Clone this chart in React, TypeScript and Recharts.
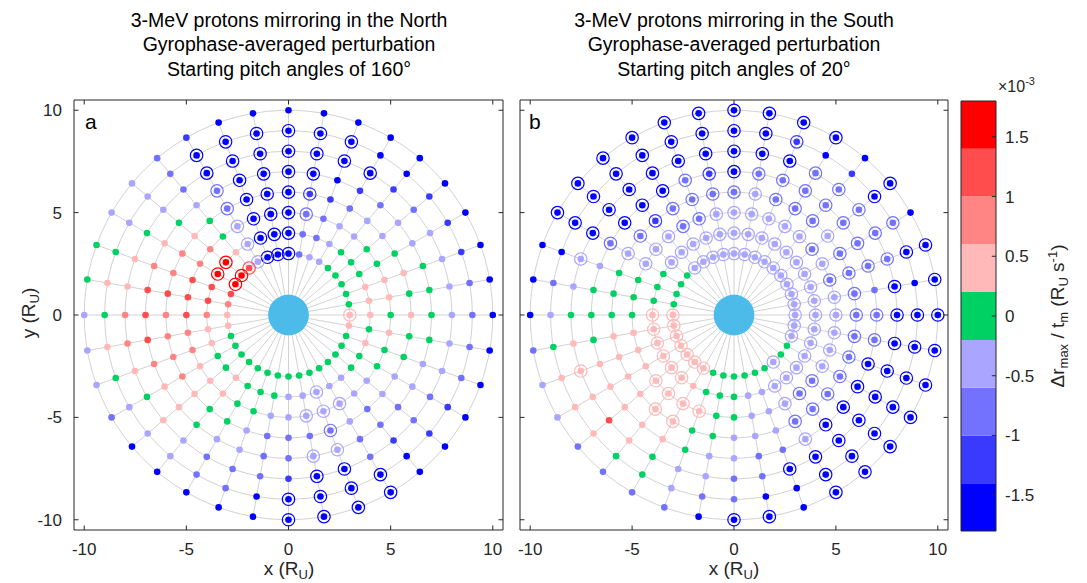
import { ReferenceArea, ReferenceLine, Scatter, ScatterChart, XAxis, YAxis } from 'recharts'

// grid: rings of starting radius (R_U) and azimuth of starting point (deg, counter-clockwise from +x)
const radii = [3, 4, 5, 6, 7, 8, 9, 10]
const angles = [
  0, 10, 20, 30, 40, 50, 60, 70, 80, 90, 100, 110, 120, 130, 140, 150, 160, 170,
  180, 190, 200, 210, 220, 230, 240, 250, 260, 270, 280, 290, 300, 310, 320, 330, 340, 350,
]

// colour class of each point, one row per radius (3 .. 10), one digit per angle
// 0 = deepest blue ... 4 = green (about zero) ... 8 = red
const northLevels = [
  '544444 332000 378876 554444 444444 444445',
  '555444 322000 358877 655445 444333 334454',
  '455443 322000 346677 766555 443333 333445',
  '545433 211000 245667 666654 432222 323344',
  '444332 100000 234567 776554 332233 222334',
  '333321 000000 023455 665453 222100 212233',
  '221110 000000 023345 454333 220000 001122',
  '000000 000000 123344 333200 000000 000000',
]
// 'o' = point drawn with an extra circle around it
const northRings = [
  'o..... ...ooo oooo.. ...... ...... ......',
  '...... ...ooo o.oo.. ...... .....o ......',
  '...... ..oooo o..... ...... ....oo o.....',
  '...... ..oooo o..... ...... .....o ......',
  '...... ..oooo o..... ...... ....oo ......',
  '...... oooooo o..... ...... ....oo ......',
  '...... .ooooo o..... ...... ...ooo o.....',
  '...... ...... ...... ...... ...ooo o.....',
]

const southLevels = [
  '333333 333333 334444 555555 544444 434433',
  '333333 333333 333444 555555 544433 333333',
  '332323 333332 233344 455555 554433 322333',
  '222232 223222 212344 455555 544333 222222',
  '222222 222012 000234 445555 543322 300002',
  '002222 200000 000033 455575 433220 000000',
  '000201 010000 000002 345554 432200 000000',
  '000000 000000 000000 023322 220000 000000',
]
const southRings = [
  'oooooo oooooo oo.... oooooo o..... .o..oo',
  'oooooo oooooo ooo... oooooo ...... oooooo',
  'oooooo oooooo oooo.. ....oo oo.... oooooo',
  'oooooo oooooo oooo.. .....o o..... oooooo',
  'o.oooo oooooo oooo.. ...... ...... oooooo',
  'oooooo oooooo ooooo. ..o... .....o oooooo',
  'o.ooo. .ooooo oooo.. ...... ...... oooooo',
  'ooo.o. oooooo oooo.. ...... ...oo. oooooo',
]

// colour bar (x 1e-3 R_U/s)
const bandEdges = [-1.8, -1.4, -1.0, -0.6, -0.2, 0.2, 0.6, 1.0, 1.4, 1.8]
const bandColors = ['#0000ff', '#3a3aff', '#7272ff', '#aaa6ff', '#00d163', '#ffb9b9', '#ff8585', '#ff4c4c', '#ff0000']
const colorTicks = [-1.5, -1, -0.5, 0, 0.5, 1, 1.5]

const axisTicks = [-10, -5, 0, 5, 10]
const LIM = 10.5
const planetRadius = 1
const innerSpoke = 1

const FONT = '"Liberation Sans", Arial, Helvetica, sans-serif'
const TEXT = '#262626'
const GRID = '#d2d2d2'
const H = 583
const MARGIN = { top: 100, right: 12, bottom: 23 }
const Y_AXIS_W = 34
const X_AXIS_H = 30
const TICK_LEN = 0.22

type Pt = { x: number; y: number; level: number; ring: boolean }

const rad = (deg: number) => (deg * Math.PI) / 180

const buildPoints = (levels: string[], rings: string[]): Pt[] =>
  radii.flatMap((r, ri) => {
    const lv = levels[ri].replace(/\s/g, '')
    const rg = rings[ri].replace(/\s/g, '')
    return angles.map((a, ai) => ({
      x: r * Math.cos(rad(a)),
      y: r * Math.sin(rad(a)),
      level: Number(lv[ai]),
      ring: rg[ai] === 'o',
    }))
  })

const northPoints = buildPoints(northLevels, northRings)
const southPoints = buildPoints(southLevels, southRings)

// grey polar grid
const circleSteps = Array.from({ length: 91 }, (_, i) => i * 4)
const gridCircles = radii.map((r) => circleSteps.map((a) => ({ x: r * Math.cos(rad(a)), y: r * Math.sin(rad(a)) })))
const gridSpokes = angles.map((a) => [
  { x: innerSpoke * Math.cos(rad(a)), y: innerSpoke * Math.sin(rad(a)) },
  { x: radii[radii.length - 1] * Math.cos(rad(a)), y: radii[radii.length - 1] * Math.sin(rad(a)) },
])

// one invisible anchor per colour band so the bar chart has data
const bandAnchors = bandColors.map((_, i) => ({ x: 0.5, y: (bandEdges[i] + bandEdges[i + 1]) / 2 }))

const NoMark = () => <g />

const PointMark = (props: any) => {
  const { cx, cy, payload } = props
  const c = bandColors[payload.level]
  return (
    <g>
      {payload.ring && <circle cx={cx} cy={cy} r={6.2} fill="none" stroke={c} strokeWidth={1.2} />}
      <circle cx={cx} cy={cy} r={3.3} fill={c} />
    </g>
  )
}

type PanelProps = { left: number; width: number; marginLeft: number; showY: boolean; points: Pt[] }

const Panel = ({ left, width, marginLeft, showY, points }: PanelProps) => {
  const plotW = width - marginLeft - (showY ? Y_AXIS_W : 0) - MARGIN.right
  const pxPerUnit = plotW / (2 * LIM)
  const PlanetMark = (p: any) => <circle cx={p.cx} cy={p.cy} r={planetRadius * pxPerUnit} fill="#4dbbea" />
  const tickSegs = axisTicks.flatMap((t) => [
    [{ x: t, y: -LIM }, { x: t, y: -LIM + TICK_LEN }],
    [{ x: t, y: LIM }, { x: t, y: LIM - TICK_LEN }],
    [{ x: -LIM, y: t }, { x: -LIM + TICK_LEN, y: t }],
    [{ x: LIM, y: t }, { x: LIM - TICK_LEN, y: t }],
  ])
  return (
    <div style={{ position: 'absolute', left, top: 0 }}>
      <ScatterChart width={width} height={H} margin={{ ...MARGIN, left: marginLeft }}>
        <XAxis
          type="number"
          dataKey="x"
          domain={[-LIM, LIM]}
          ticks={axisTicks}
          interval={0}
          allowDataOverflow
          height={X_AXIS_H}
          tickLine={false}
          axisLine={false}
          tickSize={0}
          tickMargin={13}
          tick={{ fontSize: 17, fill: TEXT, fontFamily: FONT }}
        />
        <YAxis
          type="number"
          dataKey="y"
          domain={[-LIM, LIM]}
          ticks={axisTicks}
          interval={0}
          allowDataOverflow
          hide={!showY}
          width={Y_AXIS_W}
          tickLine={false}
          axisLine={false}
          tickSize={0}
          tickMargin={12}
          tick={{ fontSize: 17, fill: TEXT, fontFamily: FONT }}
        />
        {gridCircles.map((c, i) => (
          <Scatter key={`c${i}`} data={c} line={{ stroke: GRID, strokeWidth: 1 }} shape={NoMark} isAnimationActive={false} />
        ))}
        {gridSpokes.map((s, i) => (
          <Scatter key={`s${i}`} data={s} line={{ stroke: GRID, strokeWidth: 1 }} shape={NoMark} isAnimationActive={false} />
        ))}
        <Scatter data={[{ x: 0, y: 0 }]} shape={PlanetMark} isAnimationActive={false} />
        <Scatter data={points} shape={PointMark} isAnimationActive={false} />
        <ReferenceLine x={-LIM} stroke={TEXT} strokeWidth={1} />
        <ReferenceLine x={LIM} stroke={TEXT} strokeWidth={1} />
        <ReferenceLine y={-LIM} stroke={TEXT} strokeWidth={1} />
        <ReferenceLine y={LIM} stroke={TEXT} strokeWidth={1} />
        {tickSegs.map((seg, i) => (
          <ReferenceLine key={`t${i}`} segment={seg} stroke={TEXT} strokeWidth={1} />
        ))}
      </ScatterChart>
    </div>
  )
}

const ColorBar = () => (
  <div style={{ position: 'absolute', left: 950, top: 0 }}>
    <ScatterChart width={137} height={H} margin={{ top: 101, right: 31, bottom: 52, left: 11 }}>
      <XAxis type="number" dataKey="x" domain={[0, 1]} allowDataOverflow hide />
      <YAxis
        type="number"
        dataKey="y"
        orientation="right"
        domain={[bandEdges[0], bandEdges[bandEdges.length - 1]]}
        ticks={colorTicks}
        interval={0}
        allowDataOverflow
        width={60}
        tickLine={false}
        axisLine={false}
        tickSize={0}
        tickMargin={9}
        tick={{ fontSize: 17, fill: TEXT, fontFamily: FONT }}
      />
      <Scatter data={bandAnchors} shape={NoMark} isAnimationActive={false} />
      {bandColors.map((c, i) => (
        <ReferenceArea
          key={c}
          x1={0}
          x2={1}
          y1={bandEdges[i]}
          y2={bandEdges[i + 1]}
          fill={c}
          fillOpacity={1}
          stroke="none"
          ifOverflow="visible"
        />
      ))}
      <ReferenceArea
        x1={0}
        x2={1}
        y1={bandEdges[0]}
        y2={bandEdges[bandEdges.length - 1]}
        fill="none"
        stroke={TEXT}
        strokeWidth={1}
        ifOverflow="visible"
      />
      {colorTicks.map((t) => (
        <ReferenceLine key={t} segment={[{ x: 0.88, y: t }, { x: 1, y: t }]} stroke={TEXT} strokeWidth={1} ifOverflow="visible" />
      ))}
    </ScatterChart>
  </div>
)

const Sub = ({ children }: { children: string }) => (
  <tspan dy={4} fontSize={13}>
    {children}
  </tspan>
)

const titleLines = (where: string, angle: number) => [
  `3-MeV protons mirroring in the ${where}`,
  'Gyrophase-averaged perturbation',
  `Starting pitch angles of ${angle}°`,
]

const App = () => (
  <div style={{ position: 'absolute', left: 0, top: 0, width: 1087, height: H, background: '#fff', fontFamily: FONT }}>
    <Panel left={0} width={515} marginLeft={40} showY points={northPoints} />
    <Panel left={515} width={445} marginLeft={5} showY={false} points={southPoints} />
    <ColorBar />
    <svg width={1087} height={H} style={{ position: 'absolute', left: 0, top: 0, pointerEvents: 'none' }} fontFamily={FONT}>
      {titleLines('North', 160).map((t, i) => (
        <text key={`n${i}`} x={289} y={27 + i * 24.3} textAnchor="middle" fontSize={19.5} fill="#000">
          {t}
        </text>
      ))}
      {titleLines('South', 20).map((t, i) => (
        <text key={`s${i}`} x={734} y={27 + i * 24.3} textAnchor="middle" fontSize={19.5} fill="#000">
          {t}
        </text>
      ))}
      <text x={85} y={129} fontSize={21} fill="#000">a</text>
      <text x={529} y={129} fontSize={21} fill="#000">b</text>
      {[289, 734].map((cx) => (
        <text key={cx} x={cx} y={575} textAnchor="middle" fontSize={19} fill={TEXT}>
          x (R<Sub>U</Sub>
          <tspan dy={-4}>)</tspan>
        </text>
      ))}
      <text transform="translate(35,313) rotate(-90)" textAnchor="middle" fontSize={19} fill={TEXT}>
        y (R<Sub>U</Sub>
        <tspan dy={-4}>)</tspan>
      </text>
      <text x={998} y={92} fontSize={16} fill={TEXT}>
        ×10<tspan dy={-7} fontSize={11}>-3</tspan>
      </text>
      <text transform="translate(1064,316) rotate(-90)" textAnchor="middle" fontSize={19} fill={TEXT}>
        Δr<Sub>max</Sub>
        <tspan dy={-4}> / t</tspan>
        <Sub>m</Sub>
        <tspan dy={-4}> (R</tspan>
        <Sub>U</Sub>
        <tspan dy={-4}> s</tspan>
        <tspan dy={-7} fontSize={13}>-1</tspan>
        <tspan dy={7}>)</tspan>
      </text>
    </svg>
  </div>
)

export default App
